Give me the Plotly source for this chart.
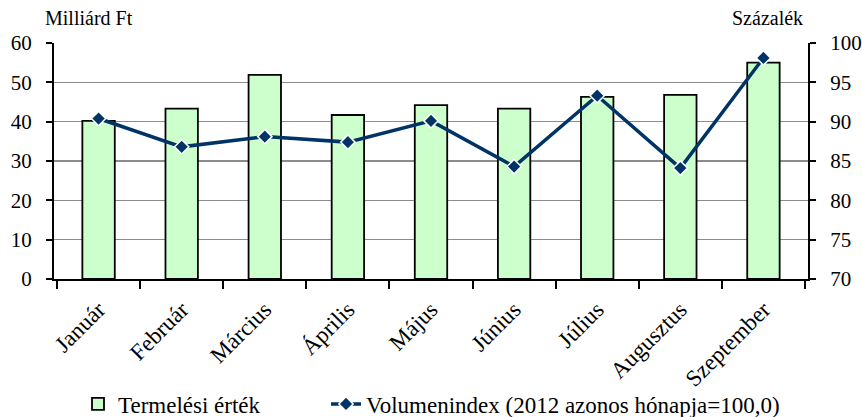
import plotly.graph_objects as go

months = ["Január", "Február", "Március", "Április", "Május", "Június", "Július", "Augusztus", "Szeptember"]
termelesi = [40.2, 43.3, 51.9, 41.7, 44.2, 43.3, 46.3, 46.8, 55.0]
volumenindex = [90.4, 86.8, 88.1, 87.4, 90.1, 84.3, 93.3, 84.1, 98.1]

FONT = "Liberation Serif"
NAVY = "#003366"

fig = go.Figure()
fig.add_trace(go.Bar(
    x=months, y=termelesi, name="Termelési érték",
    marker=dict(color="#CCFFCC", line=dict(color="black", width=1.8)),
    width=0.39, legend="legend",
))
fig.add_trace(go.Scatter(
    x=months, y=volumenindex, name="Volumenindex (2012 azonos hónapja=100,0)",
    mode="lines+markers", yaxis="y2", legend="legend2",
    line=dict(color=NAVY, width=3.5),
    marker=dict(symbol="diamond", size=11, color=NAVY, line=dict(color="white", width=1.5)),
))

W, H = 862, 417
L, R, T, B = 54, 54, 43, 138
pw = W - L - R
ph = H - T - B

legend_common = dict(orientation="h", xanchor="left", xref="container",
                     y=1 - 404 / H, yanchor="middle", yref="container",
                     font=dict(size=23), itemwidth=30, tracegroupgap=0,
                     bgcolor="rgba(0,0,0,0)")

fig.update_layout(
    width=W, height=H,
    margin=dict(l=L, r=R, t=T, b=B, autoexpand=False),
    paper_bgcolor="white", plot_bgcolor="white",
    font=dict(family=FONT, size=21, color="black"),
    showlegend=True,
    legend=dict(x=78 / W, **legend_common),
    legend2=dict(x=326 / W, **legend_common),
    xaxis=dict(
        showline=True, linecolor="black", linewidth=2, automargin=False,
        ticks="outside", tickson="boundaries", ticklen=8, tickwidth=2, tickcolor="black",
        tickangle=-45, tickfont=dict(size=23), showgrid=False, ticklabelstandoff=6,
    ),
    yaxis=dict(
        range=[0, 60], dtick=10, showline=True, linecolor="black", linewidth=2, automargin=False,
        ticks="outside", ticklen=6, tickwidth=2, tickcolor="black",
        showgrid=True, gridcolor="#8C8C8C", gridwidth=1.3, zeroline=False,
        tickfont=dict(size=21), ticklabelstandoff=10,
    ),
    yaxis2=dict(
        range=[70, 100], dtick=5, overlaying="y", side="right", automargin=False,
        showline=True, linecolor="black", linewidth=2,
        ticks="outside", ticklen=6, tickwidth=2, tickcolor="black",
        showgrid=False, zeroline=False, tickfont=dict(size=21), ticklabelstandoff=10,
    ),
    annotations=[
        dict(text="Milliárd Ft", x=(43 - L) / pw, y=(H - 18 - B) / ph, xref="paper", yref="paper",
             showarrow=False, xanchor="left", yanchor="middle", font=dict(size=20)),
        dict(text="Százalék", x=(805 - L) / pw, y=(H - 18 - B) / ph, xref="paper", yref="paper",
             showarrow=False, xanchor="right", yanchor="middle", font=dict(size=20)),
    ],
)

fig.write_html(
    "out.html",
    config={"displayModeBar": False, "staticPlot": True},
    post_script="document.body.style.margin='0';document.body.style.overflow='hidden';",
)
